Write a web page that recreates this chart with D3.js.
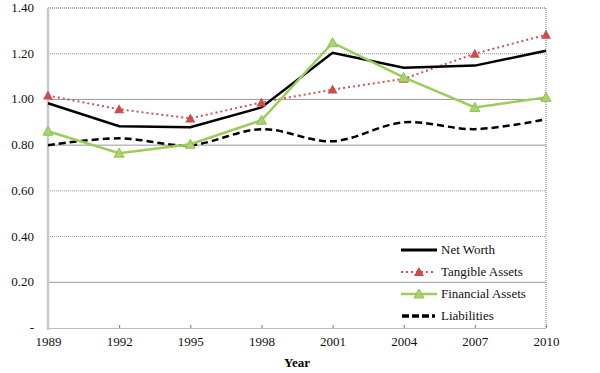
<!DOCTYPE html>
<meta charset="utf-8">
<script src="https://d3js.org/d3.v7.min.js"></script>
<style>
body { margin: 0; background: #fff; }
text { font-family: "Liberation Serif", "Times New Roman", serif; }
</style>
<div id="chart"></div>
<script>
// data
var years = [1989, 1992, 1995, 1998, 2001, 2004, 2007, 2010];
var netWorth = [0.983, 0.883, 0.878, 0.965, 1.204, 1.139, 1.148, 1.213];
var tangible = [1.017, 0.957, 0.917, 0.987, 1.043, 1.090, 1.200, 1.283];
var financial = [0.861, 0.765, 0.804, 0.909, 1.248, 1.096, 0.965, 1.009];
var liabilities = [0.800, 0.830, 0.800, 0.870, 0.817, 0.900, 0.870, 0.913];
var yTicks = [0, 0.2, 0.4, 0.6, 0.8, 1.0, 1.2, 1.4];

var width = 600, height = 373;
var margin = {top: 8, right: 54, bottom: 45, left: 48};

var svg = d3.select("#chart").append("svg")
  .attr("width", width)
  .attr("height", height);

var x = d3.scaleLinear().domain([1989, 2010]).range([margin.left, width - margin.right]);
var y = d3.scaleLinear().domain([0, 1.4]).range([height - margin.bottom, margin.top]);

// gridlines
svg.selectAll(".grid")
  .data(yTicks.filter(function(d) { return d > 0; }))
  .enter().append("line")
  .attr("x1", x(1989)).attr("x2", x(2010))
  .attr("y1", function(d) { return y(d); })
  .attr("y2", function(d) { return y(d); })
  .attr("stroke", function(d) { return d == 1.4 ? "#555" : "#999"; })
  .attr("stroke-width", 1)
  .attr("stroke-dasharray", function(d) { return (d == 0.2 || d == 0.8 || d == 1.0) ? null : "1,1"; });

// right border
svg.append("line")
  .attr("x1", x(2010)).attr("x2", x(2010))
  .attr("y1", y(1.4)).attr("y2", y(0))
  .attr("stroke", "#777").attr("stroke-dasharray", "1,1");

// y axis labels
svg.selectAll(".ylab")
  .data(yTicks)
  .enter().append("text")
  .attr("x", 34)
  .attr("y", function(d) { return y(d) + 4; })
  .attr("text-anchor", "end")
  .attr("font-size", 13)
  .attr("fill", "#111")
  .text(function(d) { return d == 0 ? "-" : d.toFixed(2); });

// x axis
var xAxis = svg.append("g")
  .attr("transform", "translate(0," + y(0) + ")")
  .call(d3.axisBottom(x).tickValues(years).tickFormat(d3.format("d")).tickSize(3).tickSizeOuter(0));
xAxis.select(".domain").attr("stroke", "#777").attr("stroke-dasharray", "1,1");
xAxis.selectAll(".tick line").attr("stroke", "#777").attr("y2", -3);
xAxis.selectAll(".tick text")
  .attr("y", 9)
  .attr("font-size", 13)
  .attr("fill", "#111");

// left axis line
svg.append("line")
  .attr("x1", x(1989)).attr("x2", x(1989))
  .attr("y1", y(1.4)).attr("y2", y(0) + 2)
  .attr("stroke", "#c8c8c8").attr("stroke-width", 2.5);

svg.append("text")
  .attr("x", 297).attr("y", 367)
  .attr("text-anchor", "middle")
  .attr("font-size", 13)
  .attr("font-weight", "bold")
  .text("Year");

var line = d3.line()
  .x(function(d, i) { return x(years[i]); })
  .y(function(d) { return y(d); });

var smooth = d3.line()
  .x(function(d, i) { return x(years[i]); })
  .y(function(d) { return y(d); })
  .curve(d3.curveCatmullRom);

function tri(cx, cy, s) {
  return "M" + cx + "," + (cy - s) + "L" + (cx + s) + "," + (cy + s * 0.8) + "L" + (cx - s) + "," + (cy + s * 0.8) + "Z";
}

// liabilities
svg.append("path").attr("d", smooth(liabilities))
  .attr("fill", "none").attr("stroke", "#000").attr("stroke-width", 2.5)
  .attr("stroke-dasharray", "7,4");

// tangible assets
svg.append("path").attr("d", line(tangible))
  .attr("fill", "none").attr("stroke", "#cc5555").attr("stroke-width", 2)
  .attr("stroke-dasharray", "2,3");

// net worth
svg.append("path").attr("d", line(netWorth))
  .attr("fill", "none").attr("stroke", "#000").attr("stroke-width", 2.5);

// financial assets
svg.append("path").attr("d", line(financial))
  .attr("fill", "none").attr("stroke", "#9acd5a").attr("stroke-width", 2.5);

svg.selectAll(".tmark")
  .data(tangible).enter().append("path")
  .attr("d", function(d, i) { return tri(x(years[i]), y(d), 5); })
  .attr("fill", "#cc4c4c");

svg.selectAll(".fmark")
  .data(financial).enter().append("path")
  .attr("d", function(d, i) { return tri(x(years[i]), y(d), 5); })
  .attr("fill", "#a9d36e").attr("stroke", "#8fc24e");

// legend
var legend = [
  {name: "Net Worth", key: "nw"},
  {name: "Tangible Assets", key: "ta"},
  {name: "Financial Assets", key: "fa"},
  {name: "Liabilities", key: "li"}
];
var lg = svg.selectAll(".lg").data(legend).enter().append("g")
  .attr("transform", function(d, i) { return "translate(401," + (250 + i * 22) + ")"; });

lg.each(function(d) {
  var g = d3.select(this);
  if (d.key == "nw") {
    g.append("line").attr("x1", 0).attr("x2", 36).attr("stroke", "#000").attr("stroke-width", 3);
  } else if (d.key == "ta") {
    g.append("line").attr("x1", 0).attr("x2", 34).attr("stroke", "#cc5555").attr("stroke-width", 2).attr("stroke-dasharray", "2,3");
    g.append("path").attr("d", tri(18, 0, 5)).attr("fill", "#cc4c4c");
  } else if (d.key == "fa") {
    g.append("line").attr("x1", 0).attr("x2", 36).attr("stroke", "#9acd5a").attr("stroke-width", 2.5);
    g.append("path").attr("d", tri(18, 0, 5)).attr("fill", "#a9d36e").attr("stroke", "#8fc24e");
  } else {
    g.append("line").attr("x1", 1).attr("x2", 34).attr("stroke", "#000").attr("stroke-width", 3.5).attr("stroke-dasharray", "7,3");
  }
  g.append("text").attr("x", 40).attr("y", 4).attr("font-size", 13).attr("fill", "#111").text(d.name);
});
</script>
